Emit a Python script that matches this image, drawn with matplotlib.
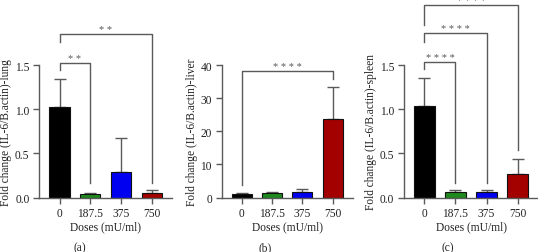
import matplotlib
matplotlib.use("Agg")
import matplotlib.pyplot as plt
import numpy as np

plt.rcParams['font.family'] = ['Liberation Serif', 'DejaVu Serif']

doses = ["0", "187.5", "375", "750"]
colors = ["#000000", "#1e8a1e", "#0000f0", "#a30000"]

lung_mean = [1.03, 0.045, 0.295, 0.05]
lung_err = [0.32, 0.01, 0.385, 0.03]
liver_mean = [0.95, 1.35, 1.6, 23.9]
liver_err = [0.5, 0.35, 1.1, 9.4]
spleen_mean = [1.035, 0.057, 0.065, 0.27]
spleen_err = [0.32, 0.023, 0.018, 0.17]

# brackets: (i, j, y, left leg bottom, right leg bottom, stars)
lung_brackets = [(0, 1, 1.53, 1.45, 0.16, "**"), (0, 3, 1.855, 1.765, 0.16, "**")]
liver_brackets = [(0, 3, 38.2, 3.7, 36.0, "****")]
spleen_brackets = [(0, 1, 1.54, 1.455, 0.16, "****"), (0, 2, 1.87, 1.77, 0.16, "****"),
                   (0, 3, 2.18, 1.955, 0.535, "****")]

GRAY = "#5a5a5a"
W, H = 538, 253


def panel(rect, mean, err, ylim, yticks, ylabel, brackets, tag, tagx):
    ax = fig.add_axes(rect)
    x = np.arange(len(doses))
    ax.bar(x, mean, width=0.66, color=colors, edgecolor="#111111", linewidth=0.8, zorder=2)
    ax.errorbar(x, mean, yerr=[np.zeros(len(mean)), err], fmt="none", ecolor=GRAY,
                elinewidth=1.0, capsize=4, capthick=1.0, zorder=1)
    ax.set_ylim(*ylim)
    ax.set_xlim(-0.66, 3.66)
    ax.set_yticks(yticks)
    ax.set_yticklabels([f"{t:.1f}" if ylim[1] < 5 else f"{t:g}" for t in yticks])
    ax.set_xticks(x)
    ax.set_xticklabels(doses)
    for s in ["top", "right"]:
        ax.spines[s].set_visible(False)
    for s in ["left", "bottom"]:
        ax.spines[s].set_color(GRAY)
        ax.spines[s].set_linewidth(1.0)
    ax.tick_params(colors=GRAY, labelcolor="#222222", width=1.0, length=4, labelsize=8.3, pad=3)
    ax.set_ylabel(ylabel, fontsize=8.3, color="#222222", labelpad=2)
    ax.set_xlabel("Doses (mU/ml)", fontsize=8.3, color="#222222", labelpad=1)
    for i, j, y, lb, rb, st in brackets:
        ax.plot([i, i, j, j], [lb, y, y, rb], color=GRAY, linewidth=1.0, clip_on=False)
        ax.text((i + j) / 2, y, " ".join(st), ha="center", va="bottom", fontsize=7.5,
                color=GRAY)
    fig.text(tagx / W, 1 - 248 / H, tag, ha="center", va="center", fontsize=8.3, color="#222222")
    return ax


fig = plt.figure(figsize=(W / 100, H / 100), dpi=100)

bottom = 1 - 198.5 / H
height = (198.5 - 66.3) / H
panel([39.3 / W, bottom, (172 - 39.3) / W, height], lung_mean, lung_err, (0, 1.5),
      [0, 0.5, 1.0, 1.5], "Fold change (IL-6/B.actin)-lung", lung_brackets, "(a)", 80)
panel([221.7 / W, bottom, (352.7 - 221.7) / W, height], liver_mean, liver_err, (0, 40),
      [0, 10, 20, 30, 40], "Fold change (IL-6/B.actin)-liver", liver_brackets, "(b)", 265)
panel([404 / W, bottom, (538 - 404) / W, height], spleen_mean, spleen_err, (0, 1.5),
      [0, 0.5, 1.0, 1.5], "Fold change (IL-6/B.actin)-spleen", spleen_brackets, "(c)", 448)

fig.savefig("out.png", dpi=100)
